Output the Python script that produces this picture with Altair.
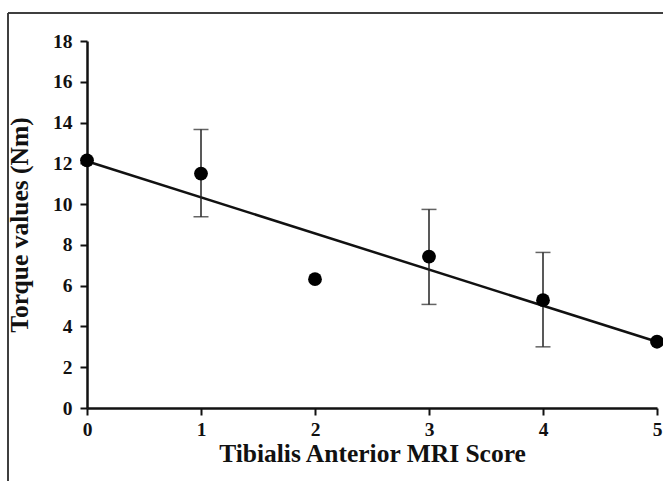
import altair as alt
import pandas as pd

# Data
mri_score = [0, 1, 2, 3, 4, 5]
torque_mean = [12.15, 11.5, 6.32, 7.42, 5.29, 3.25]
err_low = [None, 9.38, None, 5.08, 3.0, None]
err_high = [None, 13.66, None, 9.74, 7.63, None]
fit_x = [0, 5]
fit_y = [12.1, 3.25]

pts = pd.DataFrame({"x": mri_score, "y": torque_mean})
err = pd.DataFrame({"x": mri_score, "lo": err_low, "hi": err_high}).dropna()
fit = pd.DataFrame({"x": fit_x, "y": fit_y})

FONT = "Liberation Serif"

xscale = alt.Scale(domain=[0, 5], nice=False, zero=False)
yscale = alt.Scale(domain=[0, 18], nice=False)

xaxis = alt.Axis(title="Tibialis Anterior MRI Score", values=[0, 1, 2, 3, 4, 5],
                 format="d", labelPadding=5, titlePadding=3)
yaxis = alt.Axis(title="Torque values (Nm)", values=list(range(0, 19, 2)),
                 format="d", labelPadding=8, titlePadding=20)

line = alt.Chart(fit).mark_line(color="#111", strokeWidth=2.5).encode(
    x=alt.X("x:Q", scale=xscale, axis=xaxis),
    y=alt.Y("y:Q", scale=yscale, axis=yaxis),
)

bars = alt.Chart(err).mark_rule(color="#222", strokeWidth=1.5).encode(
    x="x:Q", y="lo:Q", y2="hi:Q")
cap_lo = alt.Chart(err).mark_tick(color="#222", thickness=1.5, size=15, orient="horizontal").encode(
    x="x:Q", y="lo:Q")
cap_hi = alt.Chart(err).mark_tick(color="#222", thickness=1.5, size=15, orient="horizontal").encode(
    x="x:Q", y="hi:Q")

dots = alt.Chart(pts).mark_circle(color="#000", opacity=1, size=190).encode(
    x="x:Q", y="y:Q")

frame_left = alt.Chart(fit).mark_rule(color="#333", strokeWidth=1.5).encode(
    x=alt.value(-79), y=alt.value(-28), y2=alt.value(500))
frame_top = alt.Chart(fit).mark_rule(color="#333", strokeWidth=1.5).encode(
    x=alt.value(-79), x2=alt.value(620), y=alt.value(-28))

chart = alt.layer(frame_left, frame_top, line, bars, cap_lo, cap_hi, dots).properties(
    width=570, height=367,
    autosize=alt.AutoSizeParams(type="none"),
    padding={"left": 87, "top": 41, "right": 6, "bottom": 73},
    background="white",
).configure_view(stroke=None).configure_axis(
    grid=False, tickSize=7, tickWidth=2, domainWidth=2.5,
    domainColor="#111", tickColor="#111",
    labelFontSize=19.5, labelFont=FONT, labelFontWeight="bold", labelColor="#111",
    titleFontSize=25.5, titleFont=FONT, titleFontWeight="bold", titleColor="#111",
    labelFlush=False,
)

chart.save("out.html", embed_options={"renderer": "svg", "actions": False})
